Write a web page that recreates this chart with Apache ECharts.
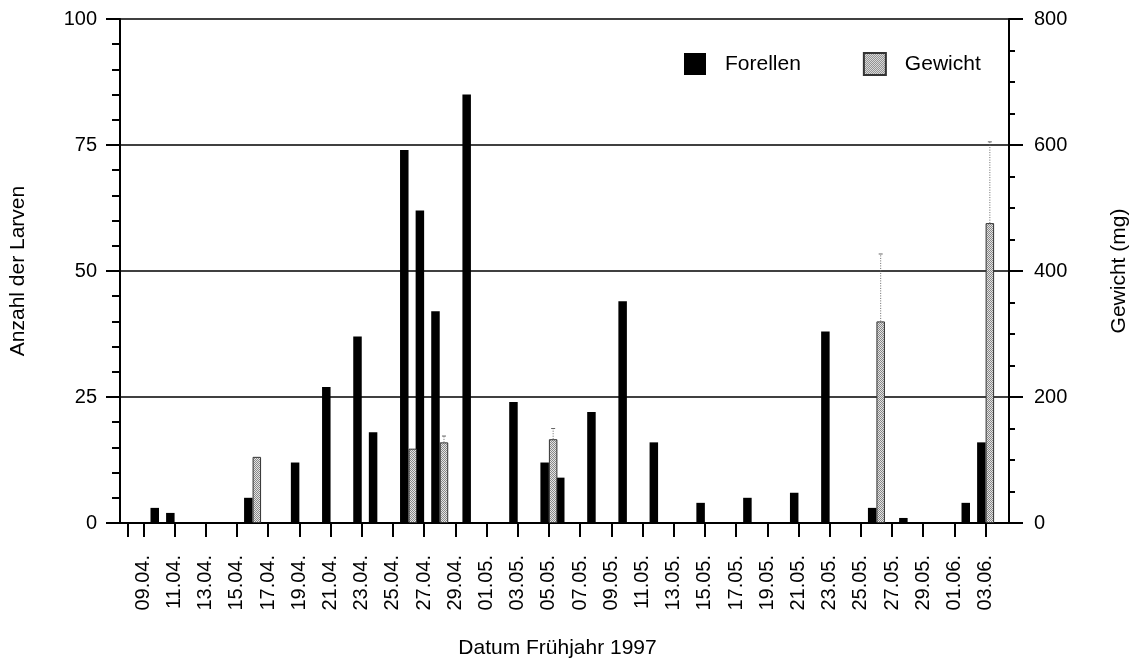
<!DOCTYPE html>
<html>
<head>
<meta charset="utf-8">
<script src="https://cdn.jsdelivr.net/npm/echarts@6/dist/echarts.min.js"></script>
<style>
html,body{margin:0;padding:0;background:#fff;}
#chart{width:1138px;height:664px;}
</style>
</head>
<body>
<div id="chart"></div>
<script>
// ---- Data ----
const days = [
  '08.04.','09.04.','10.04.','11.04.','12.04.','13.04.','14.04.','15.04.','16.04.','17.04.',
  '18.04.','19.04.','20.04.','21.04.','22.04.','23.04.','24.04.','25.04.','26.04.','27.04.',
  '28.04.','29.04.','30.04.','01.05.','02.05.','03.05.','04.05.','05.05.','06.05.','07.05.',
  '08.05.','09.05.','10.05.','11.05.','12.05.','13.05.','14.05.','15.05.','16.05.','17.05.',
  '18.05.','19.05.','20.05.','21.05.','22.05.','23.05.','24.05.','25.05.','26.05.','27.05.',
  '28.05.','29.05.','30.05.','01.06.','02.06.','03.06.','04.06.'
];
const fishDates = ['10.04.','11.04.','16.04.','19.04.','21.04.','23.04.','24.04.','26.04.','27.04.','28.04.',
  '30.04.','03.05.','05.05.','06.05.','08.05.','10.05.','12.05.','15.05.','18.05.','21.05.',
  '23.05.','26.05.','28.05.','02.06.','03.06.'];
const fishCounts = [3,2,5,12,27,37,18,74,62,42,85,24,12,9,22,44,16,4,5,6,38,3,1,4,16];
const weightDates = ['16.04.','26.04.','28.04.','05.05.','26.05.','03.06.'];
const weightMg    = [105,118,128,133,320,476];
const weightErr   = [0,0,10,17,107,129];

// ---- Styles ----
const FONT = "'Liberation Sans', Arial, Helvetica, sans-serif";
const BAR_W = 8.5;

function makePattern(){
  const c = document.createElement('canvas');
  c.width = 2; c.height = 2;
  const g = c.getContext('2d');
  g.fillStyle = '#e4e4e4'; g.fillRect(0,0,2,2);
  g.fillStyle = '#888888'; g.fillRect(0,0,1,1); g.fillRect(1,1,1,1);
  return c;
}
const pattern = {image: makePattern(), repeat: 'repeat'};

const fishSeries = days.map(d => { const i = fishDates.indexOf(d); return i >= 0 ? fishCounts[i] : null; });
const weightSeries = days.map(d => { const i = weightDates.indexOf(d); return i >= 0 ? weightMg[i] : null; });
const errData = [];
weightDates.forEach((d, i) => {
  if (weightErr[i] > 0) errData.push([days.indexOf(d), weightMg[i], weightMg[i] + weightErr[i]]);
});

const chart = echarts.init(document.getElementById('chart'), null, {renderer: 'canvas'});
const axisText = {color: '#000', fontSize: 20, fontFamily: FONT};

chart.setOption({
  animation: false,
  backgroundColor: '#fff',
  textStyle: {fontFamily: FONT, color: '#000'},
  grid: {left: 119, right: 126, top: 19, bottom: 139, containLabel: false},
  legend: {
    data: ['Forellen', 'Gewicht'],
    left: 684, top: 52,
    padding: 0,
    icon: 'rect',
    itemWidth: 22, itemHeight: 22,
    itemGap: 62,
    textStyle: {color: '#000', fontSize: 21, fontFamily: FONT, padding: [0,0,0,14]}
  },
  xAxis: {
    type: 'category',
    data: days,
    boundaryGap: true,
    name: 'Datum Frühjahr 1997',
    nameLocation: 'middle',
    nameGap: 115,
    nameTextStyle: {color: '#000', fontSize: 21, fontFamily: FONT, padding: [0, 14, 0, 0]},
    axisLine: {show: true, lineStyle: {color: '#000', width: 2}},
    axisTick: {
      show: true, alignWithLabel: true, length: 14,
      interval: (i) => i === 0 || i % 2 === 1,
      lineStyle: {color: '#000', width: 2}
    },
    axisLabel: {
      interval: (i) => i % 2 === 1,
      rotate: 90, margin: 32,
      ...axisText
    },
    splitLine: {show: false}
  },
  yAxis: [
    {
      type: 'value', min: 0, max: 100, interval: 25,
      position: 'left',
      name: 'Anzahl der Larven',
      nameLocation: 'middle', nameRotate: 90, nameGap: 91,
      nameTextStyle: {color: '#000', fontSize: 21, fontFamily: FONT},
      axisLine: {show: true, lineStyle: {color: '#000', width: 2}},
      axisTick: {show: true, length: 14, lineStyle: {color: '#000', width: 2}},
      minorTick: {show: true, splitNumber: 5, length: 8, lineStyle: {color: '#000', width: 2}},
      axisLabel: {margin: 23, ...axisText},
      splitLine: {show: true, lineStyle: {color: '#000', width: 1.6}}
    },
    {
      type: 'value', min: 0, max: 800, interval: 200,
      position: 'right',
      name: 'Gewicht (mg)',
      nameLocation: 'middle', nameRotate: 90, nameGap: 100,
      nameTextStyle: {color: '#000', fontSize: 21, fontFamily: FONT},
      axisLine: {show: true, lineStyle: {color: '#000', width: 2}},
      axisTick: {show: true, length: 14, lineStyle: {color: '#000', width: 2}},
      minorTick: {show: true, splitNumber: 4, length: 6, lineStyle: {color: '#000', width: 2}},
      axisLabel: {margin: 25, ...axisText},
      splitLine: {show: false}
    }
  ],
  series: [
    {
      name: 'Forellen', type: 'bar', xAxisIndex: 0, yAxisIndex: 0,
      data: fishSeries, barWidth: BAR_W, barGap: '0%',
      itemStyle: {color: '#000'}
    },
    {
      name: 'Gewicht', type: 'bar', xAxisIndex: 0, yAxisIndex: 1,
      data: weightSeries, barWidth: BAR_W, barGap: '0%',
      itemStyle: {color: pattern, borderColor: '#333', borderWidth: 1}
    },
    {
      name: 'Fehler', type: 'custom', xAxisIndex: 0, yAxisIndex: 1,
      data: errData, z: 3,
      renderItem: function (params, api) {
        const idx = api.value(0);
        const p0 = api.coord([idx, api.value(1)]);
        const p1 = api.coord([idx, api.value(2)]);
        const x = p0[0] + BAR_W / 2;
        return {
          type: 'group',
          children: [
            {type: 'line', shape: {x1: x, y1: p0[1], x2: x, y2: p1[1]},
             style: {stroke: '#666', lineWidth: 1, lineDash: [1, 1.5]}},
            {type: 'line', shape: {x1: x - 2, y1: p1[1], x2: x + 2, y2: p1[1]},
             style: {stroke: '#666', lineWidth: 1}}
          ]
        };
      }
    }
  ]
});
</script>
</body>
</html>
